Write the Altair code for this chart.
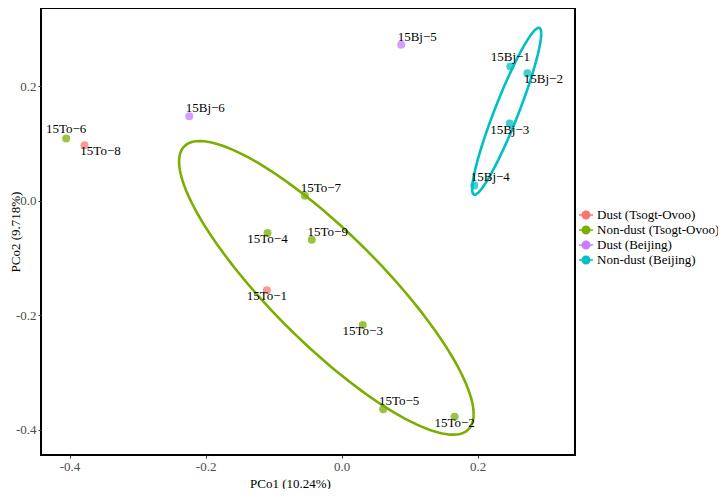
import altair as alt
import numpy as np
import pandas as pd

# ---- sample scores ----
samples = ["15To−1", "15To−2", "15To−3", "15To−4", "15To−5", "15To−6", "15To−7", "15To−8", "15To−9",
           "15Bj−1", "15Bj−2", "15Bj−3", "15Bj−4", "15Bj−5", "15Bj−6"]
groups = ["Dust (Tsogt-Ovoo)", "Non-dust (Tsogt-Ovoo)", "Non-dust (Tsogt-Ovoo)", "Non-dust (Tsogt-Ovoo)",
          "Non-dust (Tsogt-Ovoo)", "Non-dust (Tsogt-Ovoo)", "Non-dust (Tsogt-Ovoo)", "Dust (Tsogt-Ovoo)",
          "Non-dust (Tsogt-Ovoo)",
          "Non-dust (Beijing)", "Non-dust (Beijing)", "Non-dust (Beijing)", "Non-dust (Beijing)",
          "Dust (Beijing)", "Dust (Beijing)"]
pco1 = [-0.110, 0.166, 0.031, -0.109, 0.061, -0.405, -0.054, -0.378, -0.044,
        0.248, 0.273, 0.247, 0.195, 0.0875, -0.224]
pco2 = [-0.156, -0.377, -0.217, -0.056, -0.364, 0.109, 0.009, 0.097, -0.068,
        0.235, 0.223, 0.135, 0.027, 0.273, 0.148]
label_place = ["below", "below", "below", "below", "upright", "above", "upright", "downright", "upright",
               "above", "downright", "below", "upright", "upright", "upright"]

group_order = ["Dust (Tsogt-Ovoo)", "Non-dust (Tsogt-Ovoo)", "Dust (Beijing)", "Non-dust (Beijing)"]
group_colors = ["#F8766D", "#7CAE00", "#C77CFF", "#00BFC4"]

# ---- ellipse parameters (centre, half-extents, correlation) ----
ell_groups = ["Non-dust (Tsogt-Ovoo)", "Non-dust (Beijing)"]
ell_cx = [-0.0225, 0.2426]
ell_cy = [-0.152, 0.1566]
ell_sx = [0.2165, 0.0507]
ell_sy = [0.2565, 0.1458]
ell_rho = [-0.86, 0.93]

pts = pd.DataFrame({"sample": samples, "group": groups, "pco1": pco1, "pco2": pco2, "place": label_place})

rows = []
t = np.linspace(0, 2 * np.pi, 181)
for g, cx, cy, sx, sy, r in zip(ell_groups, ell_cx, ell_cy, ell_sx, ell_sy, ell_rho):
    ex = cx + sx * np.cos(t)
    ey = cy + sy * (r * np.cos(t) + np.sqrt(1 - r * r) * np.sin(t))
    for i, (a, b) in enumerate(zip(ex, ey)):
        rows.append({"group": g, "pco1": float(a), "pco2": float(b), "i": i})
ell = pd.DataFrame(rows)

minus_fix = "replace(format(datum.value, '.1f'), '\u2212', '-')"
X = alt.X("pco1:Q", scale=alt.Scale(domain=[-0.442, 0.343], nice=False, zero=False),
          axis=alt.Axis(values=[-0.4, -0.2, 0.0, 0.2], labelExpr=minus_fix, title="PCo1 (10.24%)",
                        titleX=249, titleY=28, titleBaseline="middle"))
Y = alt.Y("pco2:Q", scale=alt.Scale(domain=[-0.444, 0.337], nice=False, zero=False),
          axis=alt.Axis(values=[-0.4, -0.2, 0.0, 0.2], labelExpr=minus_fix, title="PCo2 (9.718%)",
                        titleX=-26, titleBaseline="middle"))

legend = alt.Legend(title=None, orient="none", legendX=537, legendY=199,
                    symbolType="M-1,0L1,0M-0.53,0A0.53,0.53,0,1,0,0.53,0A0.53,0.53,0,1,0,-0.53,0Z",
                    symbolSize=200, symbolStrokeWidth=1.5, symbolOpacity=1,
                    labelFont="Liberation Serif", labelFontSize=13, labelColor="black",
                    rowPadding=0, labelOffset=3)
cscale = alt.Scale(domain=group_order, range=group_colors)

ellipses = alt.Chart(ell).mark_line(strokeWidth=2.6).encode(
    x=X, y=Y, stroke=alt.Stroke("group:N", scale=cscale, legend=legend), detail="group:N",
    order="i:Q")

points = alt.Chart(pts).mark_circle(size=64, opacity=0.75).encode(
    x=X, y=Y, fill=alt.Fill("group:N", scale=cscale, legend=legend))

offsets = {"below": (0, 6), "above": (0, -9), "upright": (16, -8), "downright": (16, 6)}
texts = []
for p, (dx, dy) in offsets.items():
    texts.append(
        alt.Chart(pts).transform_filter(alt.datum.place == p).mark_text(
            dx=dx, dy=dy, font="Liberation Serif", fontSize=13, color="black", baseline="middle", align="center"
        ).encode(x=X, y=Y, text="sample:N")
    )

chart = alt.layer(ellipses, points, *texts).properties(
    width=534, height=447,
    padding={"left": 33, "top": 0, "right": 143, "bottom": 34},
    autosize=alt.AutoSizeParams(type="none"),
).configure_view(stroke="black", strokeWidth=2).configure_axis(
    domain=False, grid=False, tickColor="#333333", tickSize=3, tickWidth=1,
    labelFont="Liberation Serif", labelFontSize=13, labelColor="#4D4D4D", labelPadding=2,
    titleFont="Liberation Serif", titleFontSize=13, titleFontWeight="normal", titleColor="black",
)

chart.save("out.html", embed_options={"renderer": "svg", "actions": False})
